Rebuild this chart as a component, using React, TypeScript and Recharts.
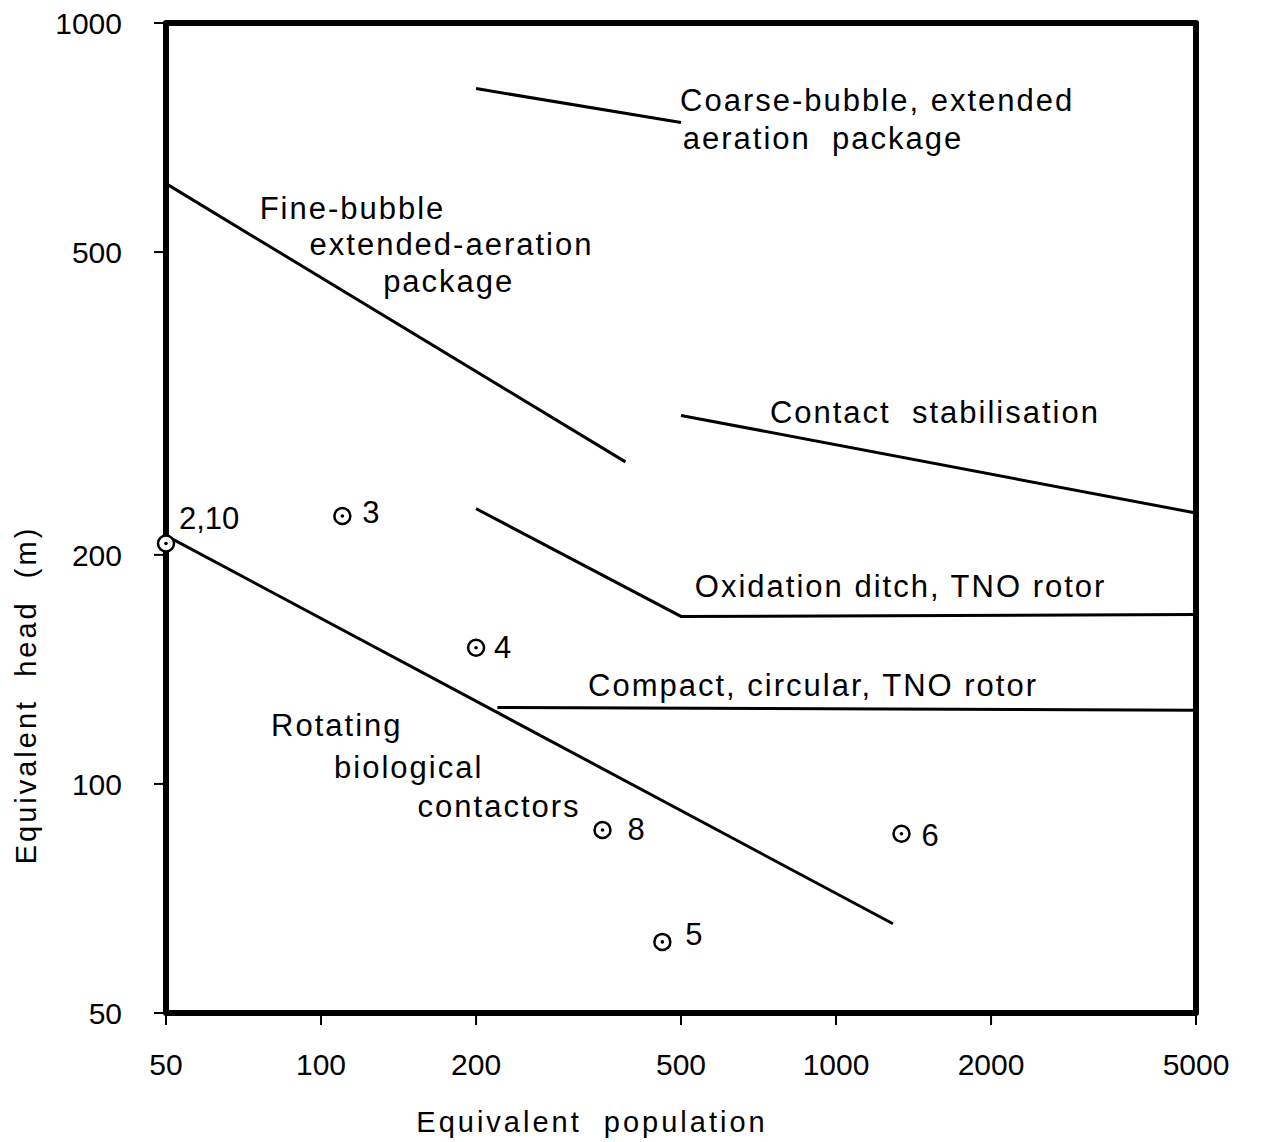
import React from 'react';
import { ComposedChart, Scatter, XAxis, YAxis, ReferenceArea } from 'recharts';

// ---- Data ----
const xTicks = [50, 100, 200, 500, 1000, 2000, 5000];
const yTicks = [50, 100, 200, 500, 1000];

const coarseBubble = [
  { x: 200, y: 820 },
  { x: 500, y: 740 },
];
const fineBubble = [
  { x: 50, y: 615 },
  { x: 390, y: 265 },
];
const contactStabilisation = [
  { x: 500, y: 305 },
  { x: 5000, y: 227 },
];
const oxidationDitch = [
  { x: 200, y: 230 },
  { x: 500, y: 166 },
  { x: 5000, y: 167 },
];
const compactCircular = [
  { x: 220, y: 126 },
  { x: 5000, y: 125 },
];
const rotatingBiological = [
  { x: 50, y: 212 },
  { x: 1290, y: 65.5 },
];

const plantIds = ['2,10', '3', '4', '8', '6', '5'];
const plantPopulation = [50, 110, 200, 352, 1340, 460];
const plantHead = [207, 225, 151, 87, 86, 62];

const annotationTexts = [
  'Coarse-bubble, extended',
  'aeration  package',
  'Fine-bubble',
  'extended-aeration',
  'package',
  'Contact  stabilisation',
  'Oxidation ditch, TNO rotor',
  'Compact, circular, TNO rotor',
  'Rotating',
  'biological',
  'contactors',
];
const annotationX = [498, 504, 76, 95, 132, 744, 532, 330, 80, 106, 154];
const annotationY = [792, 706, 571, 512, 458, 308, 181.5, 134.5, 119.5, 105, 93.3];

// label offsets (px) for plant number labels
const plantLabelOffsets: Record<string, { dx: number; dy: number }> = {
  '2,10': { dx: 13, dy: -25 },
  '3': { dx: 20, dy: -3 },
  '4': { dx: 18, dy: 0 },
  '8': { dx: 25, dy: 0 },
  '6': { dx: 20, dy: 2 },
  '5': { dx: 23, dy: -7 },
};

const FONT = '"Liberation Sans", Arial, sans-serif';

const plants = plantIds.map((id, i) => ({ id, x: plantPopulation[i], y: plantHead[i] }));
const annotations = annotationTexts.map((t, i) => ({ text: t, x: annotationX[i], y: annotationY[i] }));

const lineSeries = [
  coarseBubble,
  fineBubble,
  contactStabilisation,
  oxidationDitch,
  compactCircular,
  rotatingBiological,
];

const NoShape = () => <g />;

const PlantShape = (props: any) => {
  const { cx, cy, payload } = props;
  const off = plantLabelOffsets[payload.id] || { dx: 20, dy: 0 };
  return (
    <g>
      <circle cx={cx} cy={cy} r={8} fill="#fff" stroke="#000" strokeWidth={2.5} />
      <circle cx={cx} cy={cy} r={1.8} fill="#000" />
      <text
        x={cx + off.dx}
        y={cy + off.dy}
        fontFamily={FONT}
        fontSize={31}
        fill="#000"
        dominantBaseline="central"
      >
        {payload.id}
      </text>
    </g>
  );
};

const AnnotationShape = (props: any) => {
  const { cx, cy, payload } = props;
  return (
    <text
      x={cx}
      y={cy}
      fontFamily={FONT}
      fontSize={31}
      letterSpacing={2}
      fill="#000"
      dominantBaseline="central"
      style={{ whiteSpace: 'pre' }}
    >
      {payload.text}
    </text>
  );
};

const XTitle = (props: any) => {
  const vb = props.viewBox || { x: 0, y: 0, width: 0, height: 0 };
  return (
    <text
      x={vb.x + vb.width / 2 - 89}
      y={vb.y + 109}
      textAnchor="middle"
      dominantBaseline="central"
      fontFamily={FONT}
      fontSize={29}
      letterSpacing={3}
      fill="#000"
      style={{ whiteSpace: 'pre' }}
    >
      Equivalent  population
    </text>
  );
};

const YTitle = (props: any) => {
  const vb = props.viewBox || { x: 0, y: 0, width: 0, height: 0 };
  const x = vb.x + 26;
  const y = vb.y + vb.height / 2 + 177;
  return (
    <text
      x={x}
      y={y}
      transform={`rotate(-90 ${x} ${y})`}
      textAnchor="middle"
      dominantBaseline="central"
      fontFamily={FONT}
      fontSize={29}
      letterSpacing={3}
      fill="#000"
      style={{ whiteSpace: 'pre' }}
    >
      Equivalent  head  (m)
    </text>
  );
};

export default function App() {
  return (
    <div style={{ position: 'absolute', left: 0, top: 0, width: 1266, height: 1142, background: '#fff' }}>
      <ComposedChart
        width={1266}
        height={1142}
        margin={{ top: 23, right: 70, bottom: 4, left: 0 }}
      >
        <XAxis
          type="number"
          dataKey="x"
          scale="log"
          domain={[50, 5000]}
          ticks={xTicks}
          axisLine={false}
          tickLine={{ stroke: '#000', strokeWidth: 2 }}
          tickSize={12}
          tickMargin={29}
          height={125}
          tick={{ fill: '#000', fontSize: 30, fontFamily: FONT }}
          interval={0}
          label={{ content: XTitle }}
        />
        <YAxis
          type="number"
          dataKey="y"
          scale="log"
          domain={[50, 1000]}
          ticks={yTicks}
          axisLine={false}
          tickLine={{ stroke: '#000', strokeWidth: 2 }}
          tickSize={12}
          tickMargin={32}
          width={166}
          tick={{ fill: '#000', fontSize: 30, fontFamily: FONT }}
          interval={0}
          label={{ content: YTitle }}
        />
        <ReferenceArea
          x1={50}
          x2={5000}
          y1={50}
          y2={1000}
          fill="none"
          fillOpacity={0}
          stroke="#000"
          strokeWidth={6}
          strokeLinejoin="round"
          ifOverflow="visible"
        />
        {lineSeries.map((d, i) => (
          <Scatter
            key={`line-${i}`}
            data={d}
            line={{ stroke: '#000', strokeWidth: 3 }}
            lineType="joint"
            shape={NoShape}
            isAnimationActive={false}
          />
        ))}
        <Scatter data={annotations} shape={AnnotationShape} isAnimationActive={false} />
        <Scatter data={plants} shape={PlantShape} isAnimationActive={false} />
      </ComposedChart>
    </div>
  );
}
